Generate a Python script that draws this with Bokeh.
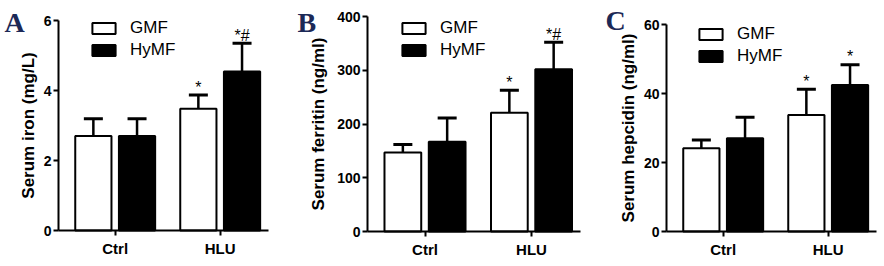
from bokeh.plotting import figure
from bokeh.models import (ColumnDataSource, Range1d, FixedTicker, Whisker, TeeHead,
                          Legend, LegendItem, Label)
from bokeh.transform import dodge
from bokeh.layouts import row
from bokeh.embed import file_html
from bokeh.resources import INLINE
from bokeh.core.properties import value

# ---------------- data ----------------
categories = ["Ctrl", "HLU"]
series = ["GMF", "HyMF"]

iron_gmf = [2.70, 3.48]
iron_gmf_err = [0.49, 0.39]
iron_hymf = [2.70, 4.54]
iron_hymf_err = [0.49, 0.81]
iron_gmf_sig = ["", "*"]
iron_hymf_sig = ["", "*#"]
iron_ticks = [0, 2, 4, 6]

ferritin_gmf = [147, 221]
ferritin_gmf_err = [15, 42]
ferritin_hymf = [167, 302]
ferritin_hymf_err = [44, 50]
ferritin_gmf_sig = ["", "*"]
ferritin_hymf_sig = ["", "*#"]
ferritin_ticks = [0, 100, 200, 300, 400]

hepcidin_gmf = [24.1, 33.8]
hepcidin_gmf_err = [2.4, 7.4]
hepcidin_hymf = [27.0, 42.5]
hepcidin_hymf_err = [6.1, 5.8]
hepcidin_gmf_sig = ["", "*"]
hepcidin_hymf_sig = ["", "*"]
hepcidin_ticks = [0, 20, 40, 60]

SANS = "Liberation Sans"
SERIF = "Liberation Serif"
BAR_W = 0.345
DODGE = 0.208
HEIGHT = 266
X_LO, X_HI = -0.54, 1.46   # x extent of the drawn x-axis (category index units)


def make_panel(letter, ylabel, gmf, gmf_err, hymf, hymf_err, sig_g, sig_h, ticks,
               width, ax_px, right_px, top_px, zero_px, label_standoff,
               legend_loc, letter_loc):
    xs = list(range(len(categories)))
    ymax = ticks[-1]
    # the frame fills the whole figure; axes are pinned inside it
    ppx = (right_px - ax_px) / (X_HI - X_LO)
    ppy = (zero_px - top_px) / ymax
    x_range = Range1d(X_LO - ax_px / ppx, X_HI + (width - right_px) / ppx)
    y_range = Range1d(-(HEIGHT - zero_px) / ppy, ymax + top_px / ppy)
    p = figure(width=width, height=HEIGHT, output_backend="svg", toolbar_location=None,
               x_range=x_range, y_range=y_range, min_border=0)
    p.outline_line_color = None
    p.xgrid.visible = False
    p.ygrid.visible = False
    p.background_fill_color = "white"
    p.border_fill_color = "white"

    renderers = []
    for vals, errs, sig, off, fill in ((gmf, gmf_err, sig_g, -DODGE, "white"),
                                        (hymf, hymf_err, sig_h, DODGE, "black")):
        src = ColumnDataSource(dict(
            x=xs, value=vals,
            upper=[v + e for v, e in zip(vals, errs)],
            sig=sig))
        xd = dodge("x", off, range=p.x_range)
        r = p.vbar(x=xd, top="value", width=BAR_W, bottom=0, source=src,
                   fill_color=fill, line_color="black", line_width=2)
        renderers.append(r)
        w = Whisker(source=src, base=xd, lower="value", upper="upper",
                    dimension="height", line_color="black", line_width=2.5,
                    upper_head=TeeHead(size=19, line_width=3, line_color="black"),
                    lower_head=None)
        p.add_layout(w)
        p.text(x=xd, y="upper", text="sig", source=src, text_align="center",
               text_baseline="alphabetic", y_offset=-8,
               text_font=value(SANS), text_font_size="16px", text_color="black")

    for ax in (p.xaxis[0], p.yaxis[0]):
        ax.axis_line_width = 2
        ax.axis_line_color = "black"
        ax.major_tick_line_width = 2
        ax.major_tick_out = 5
        ax.major_tick_in = 0
        ax.minor_tick_out = 0
        ax.minor_tick_in = 0
        ax.major_label_text_font = SANS
        ax.major_label_text_font_style = "bold"
        ax.major_label_text_color = "black"

    p.xaxis.fixed_location = 0
    p.xaxis.bounds = (X_LO, X_HI)
    p.xaxis.ticker = FixedTicker(ticks=xs)
    p.xaxis.major_label_overrides = {i: c for i, c in zip(xs, categories)}
    p.xaxis.major_label_text_font_size = "15px"
    p.xaxis.major_label_standoff = 4

    p.yaxis.fixed_location = X_LO
    p.yaxis.bounds = (0, ymax)
    p.yaxis.ticker = FixedTicker(ticks=ticks)
    p.yaxis.major_label_text_font_size = "14px"
    p.yaxis.major_label_standoff = 2
    p.yaxis.axis_label = ylabel
    p.yaxis.axis_label_text_font = SANS
    p.yaxis.axis_label_text_font_style = "bold"
    p.yaxis.axis_label_text_font_size = "17px"
    p.yaxis.axis_label_text_color = "black"
    p.yaxis.axis_label_standoff = label_standoff

    legend = Legend(items=[LegendItem(label=series[0], renderers=[renderers[0]]),
                           LegendItem(label=series[1], renderers=[renderers[1]])],
                    location=legend_loc, glyph_width=29, glyph_height=14,
                    label_standoff=12, label_height=14, spacing=2, padding=0, margin=0,
                    label_text_font=SANS, label_text_font_size="17px",
                    label_text_color="black",
                    border_line_color=None, background_fill_alpha=0)
    p.add_layout(legend)

    p.add_layout(Label(x=letter_loc[0], y=letter_loc[1], x_units="screen",
                       y_units="screen", text=letter, text_font=SERIF,
                       text_font_size="28px", text_font_style="bold",
                       text_color="#1c2957", text_baseline="alphabetic"))
    return p


pa = make_panel("A", "Serum iron (mg/L)", iron_gmf, iron_gmf_err, iron_hymf,
                iron_hymf_err, iron_gmf_sig, iron_hymf_sig, iron_ticks,
                290, 58, 268, 20, 230, 3, (89, 206), (4, 244))
pb = make_panel("B", "Serum ferritin (ng/ml)", ferritin_gmf, ferritin_gmf_err,
                ferritin_hymf, ferritin_hymf_err, ferritin_gmf_sig, ferritin_hymf_sig,
                ferritin_ticks, 294, 77, 290, 16, 231, 6, (109, 206), (7, 244))
pc = make_panel("C", "Serum hepcidin (ng/ml)", hepcidin_gmf, hepcidin_gmf_err,
                hepcidin_hymf, hepcidin_hymf_err, hepcidin_gmf_sig, hepcidin_hymf_sig,
                hepcidin_ticks, 300, 82, 292, 24, 231, 3, (112, 200), (21, 246))

layout = row(pa, pb, pc, spacing=0)
open("out.html", "w").write(file_html(layout, INLINE))
